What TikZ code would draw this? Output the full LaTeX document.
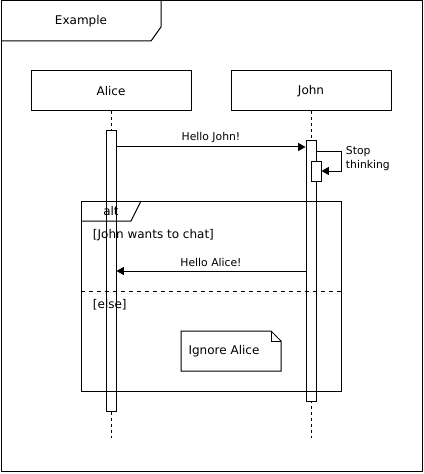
\documentclass[tikz,border=0pt]{standalone}
\usepackage{fontspec}
\setmainfont{DejaVu Sans}
\usetikzlibrary{arrows.meta}
\begin{document}
\begin{tikzpicture}[x=0.75pt,y=-0.75pt,line width=0.75pt,
  big/.style={font=\fontsize{9}{11}\selectfont},
  small/.style={font=\fontsize{8.1}{10.5}\selectfont},
  actor/.style={draw,fill=white,minimum width=120pt,minimum height=30pt,inner sep=0pt,big},
  act/.style={draw,fill=white,minimum width=7.5pt,inner sep=0pt},
  lifeline/.style={dash pattern=on 2.25pt off 2.25pt},
  msg/.style={-{Triangle[length=5.5pt,width=6pt]}},
  blank/.style={draw,inner sep=0pt}]
\useasboundingbox (0,0) rectangle (424,474);
% outer frame
\node[blank,minimum width=315.75pt,minimum height=352.5pt] (frame) at (211.5,236) {};
\draw (1,41) -- (151,41) -- (161,27) -- (161,1);
\node[big] (title) at (81,21) {Example};
% actors
\node[actor] (alice) at (111,91) {Alice};
\node[actor] (john) at (311,91) {John};
\coordinate (aend) at (111,438);
\coordinate (jend) at (311,438);
% lifelines
\draw[lifeline] (alice.south) -- (aend);
\draw[lifeline] (john.south) -- (jend);
% activations
\node[act,minimum height=210pt] (aact) at (111,271) {};
\node[act,minimum height=195pt] (jact) at (311,271) {};
\node[act,minimum height=15pt] (jnest) at (316,171) {};
% Hello John
\draw[msg] (aact.east |- 0,147) -- (jact.west |- 0,147);
\node[small] (lhj) at (211,137) {Hello John!};
% self message
\draw[msg] (jact.east |- 0,151) -- ++(25,0) |- (jnest.east);
\node[small,anchor=west,align=left] (lst) at (341,159) {Stop\\thinking};
% alt frame
\node[blank,minimum width=195pt,minimum height=142.5pt] (alt) at (211,296) {};
\draw (81,221) -- (131,221) -- (141,201);
\node[big] (lalt) at (111,211) {alt};
\node[big,anchor=west] (cond) at (88,235) {[John wants to chat]};
\draw[msg] (jact.west |- 0,271) -- (aact.east |- 0,271);
\node[small] (lha) at (211,262) {Hello Alice!};
\draw[dash pattern=on 3pt off 3pt] (alt.west |- 0,291) -- (alt.east |- 0,291);
\node[big,anchor=west] (els) at (88,305) {[else]};
% note
\draw[fill=white] (181,331) -- (271,331) -- (281,341) -- (281,371) -- (181,371) -- cycle;
\draw (271,331) -- (271,341) -- (281,341);
\node[big] (note) at (224,351) {Ignore Alice};
\end{tikzpicture}
\end{document}
